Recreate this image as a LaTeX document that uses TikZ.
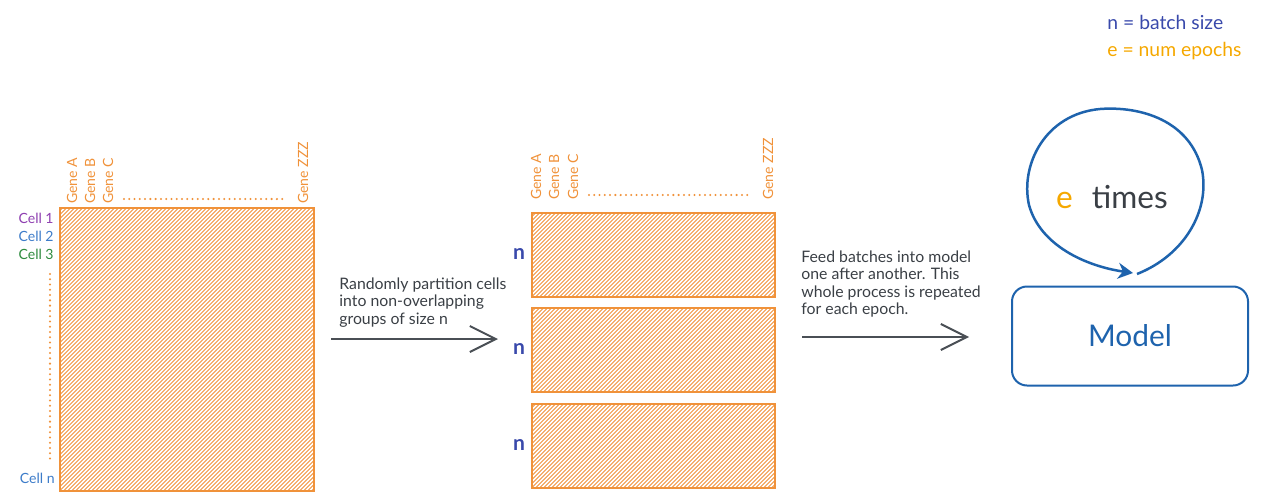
\documentclass[tikz,border=0pt]{standalone}
\usepackage{fontspec}
\setmainfont{Lato}
\usetikzlibrary{arrows.meta}

\definecolor{geneorange}{HTML}{F0923A}
\definecolor{epochyellow}{HTML}{F5A800}
\definecolor{batchblue}{HTML}{3949AB}
\definecolor{modelblue}{HTML}{1E63AD}
\definecolor{cellpurple}{HTML}{8E3FB0}
\definecolor{cellblue}{HTML}{3D7CC9}
\definecolor{cellgreen}{HTML}{2E8B3E}
\definecolor{inkgray}{HTML}{3A3F45}
\definecolor{arrowgray}{HTML}{4A4F55}

\tikzset{
  matbox/.style={draw=geneorange, line width=0.3mm, anchor=north west, inner sep=0pt},
  hatchline/.style={draw=geneorange, line width=0.55pt},
  genelbl/.style={rotate=90, anchor=west, inner sep=0pt, text=geneorange, font=\fontsize{8}{9}\selectfont},
  celllbl/.style={anchor=east, inner sep=0pt, font=\fontsize{8}{9}\selectfont},
  nlbl/.style={inner sep=0pt, text=batchblue, font=\fontsize{12}{14}\selectfont\bfseries},
  dotline/.style={draw=geneorange, line width=1.3pt, line cap=round, dash pattern=on 0pt off 3pt},
  note/.style={anchor=north west, inner sep=0pt, align=left, text=inkgray, font=\fontsize{9}{10}\selectfont},
  feedarrow/.style={draw=arrowgray, line width=0.4mm, -{Straight Barb[length=5.2mm,width=5.2mm,line width=0.4mm]}},
  modelbox/.style={draw=modelblue, line width=0.4mm, rounded corners=3mm, minimum width=47.2mm, minimum height=19.8mm,
    text=modelblue, font=\fontsize{17}{20}\selectfont},
  loopline/.style={draw=modelblue, line width=0.5mm, -{Stealth[length=3mm,width=3.2mm]}},
  legend/.style={anchor=west, inner sep=0pt, font=\fontsize{11}{13}\selectfont}
}

% diagonal hatching inside a box node
\newcommand{\hatchfill}[1]{%
  \begin{scope}
    \clip (#1.north west) rectangle (#1.south east);
    \foreach \k in {0,4,...,600}
      \draw[hatchline, shift={(#1.south west)}] (\k-300,0) -- ++(300,-300);
  \end{scope}}

\begin{document}
\begin{tikzpicture}[x=0.2mm, y=-0.2mm]
    \useasboundingbox (0,0) rectangle (1269,500);

    % Legend in the top right corner
    \node[legend, text=batchblue] (leg_n) at (1107,22) {n = batch size};
    \node[legend, text=epochyellow] (leg_e) at (1107,51) {e = num epochs};

    % Full matrix of cells by genes
    \node[matbox, minimum width=50.8mm, minimum height=56.6mm] (cells) at (59,207) {};
    \hatchfill{cells}

    % Gene names along the top of the full matrix
    \node[genelbl] (g_A) at (72,204) {Gene A};
    \node[genelbl] (g_B) at (90,204) {Gene B};
    \node[genelbl] (g_C) at (108,204) {Gene C};
    \node[genelbl] (g_Z) at (303,204) {Gene ZZZ};
    \draw[dotline] (124,199) -- (287,199);

    % Cell names down the left side
    \node[celllbl, text=cellpurple] (c_1) at (54,218) {Cell 1};
    \node[celllbl, text=cellblue] (c_2) at (54,236) {Cell 2};
    \node[celllbl, text=cellgreen] (c_3) at (54,254) {Cell 3};
    \node[celllbl, text=cellblue] (c_n) at (55,478) {Cell n};
    \draw[dotline] (50,274) -- (50,460);

    % First step
    \coordinate (split_s) at (331,339);
    \coordinate (split_e) at (498,339);
    \draw[feedarrow] (split_s) -- (split_e);
    \node[note] (split_txt) at (339,277) {Randomly partition cells\\into non-overlapping\\groups of size n};

    % Batches of size n
    \node[matbox, minimum width=48.6mm, minimum height=16.8mm] (b_1) at (531,212) {};
    \node[matbox, minimum width=48.6mm, minimum height=16.8mm] (b_2) at (531,307) {};
    \node[matbox, minimum width=48.6mm, minimum height=16.8mm] (b_3) at (531,403) {};
    \hatchfill{b_1}
    \hatchfill{b_2}
    \hatchfill{b_3}
    \node[nlbl] (n_1) at (519,254) {n};
    \node[nlbl] (n_2) at (519,349) {n};
    \node[nlbl] (n_3) at (519,445) {n};

    % Gene names along the top of the batches
    \node[genelbl] (h_A) at (536,200) {Gene A};
    \node[genelbl] (h_B) at (554,200) {Gene B};
    \node[genelbl] (h_C) at (573,200) {Gene C};
    \node[genelbl] (h_Z) at (768,200) {Gene ZZZ};
    \draw[dotline] (589,195) -- (752,195);

    % Second step
    \coordinate (feed_s) at (802,337);
    \coordinate (feed_e) at (969,337);
    \draw[feedarrow] (feed_s) -- (feed_e);
    \node[note] (feed_txt) at (801,250) {Feed batches into model\\one after another. This\\whole process is repeated\\for each epoch.};

    % Model and the epoch loop
    \node[modelbox] (model) at (1130,336) {Model};
    \coordinate (loop_s) at (1137,274);
    \coordinate (loop_e) at (1133,273);
    \draw[loopline] (loop_s) .. controls (1185,255) and (1210,210) .. (1202,170)
        .. controls (1190,120) and (1140,106) .. (1100,109)
        .. controls (1045,114) and (1020,165) .. (1029,205)
        .. controls (1040,245) and (1085,266) .. (loop_e);
    \node[inner sep=0pt, font=\fontsize{18}{20}\selectfont, text=inkgray] (times) at (1112,197)
        {\textcolor{epochyellow}{e}\hspace{0.6em}times};

\end{tikzpicture}
\end{document}
